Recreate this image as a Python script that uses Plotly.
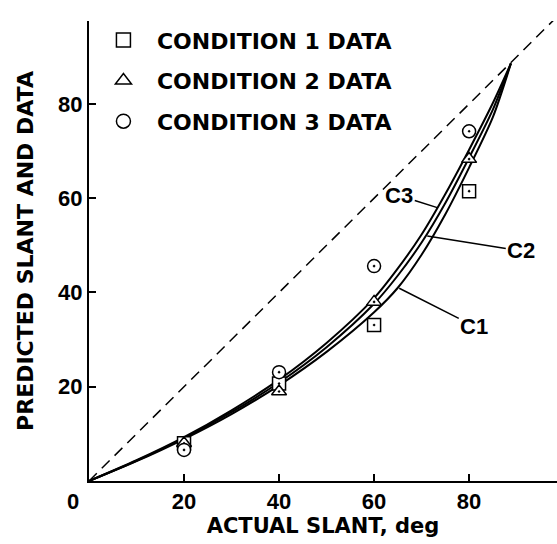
import plotly.graph_objects as go

# ---- data ----
actual = [20, 40, 60, 80]
cond1 = [8.0, 20.7, 33.1, 61.5]
cond2 = [8.0, 19.0, 38.0, 68.3]
cond3 = [6.6, 23.1, 45.6, 74.2]

curve_x = [0, 10, 20, 30, 40, 50, 60, 65, 70, 75, 80, 85, 88.8]
c1_y = [0, 4.2, 8.9, 14.2, 20.3, 27.4, 35.8, 41.0, 48.0, 56.6, 66.5, 77.2, 88.6]
c2_y = [0, 4.3, 9.1, 14.6, 20.9, 28.4, 37.6, 43.6, 50.6, 59.0, 68.6, 78.8, 88.6]
c3_y = [0, 4.4, 9.3, 15.0, 21.5, 29.3, 38.8, 45.1, 52.3, 60.9, 70.3, 80.2, 88.6]

diag = [0, 100]

xticks = [20, 40, 60, 80]
yticks = [20, 40, 60, 80]

NUMFONT = "Liberation Sans"
TXTFONT = "DejaVu Sans"
fig = go.Figure()

# dashed reference line
fig.add_trace(go.Scatter(x=diag, y=diag, mode="lines", showlegend=False,
                         line=dict(color="black", width=1.5, dash="11px,7px")))

for cy in (c1_y, c2_y, c3_y):
    fig.add_trace(go.Scatter(x=curve_x, y=cy, mode="lines", showlegend=False,
                             line=dict(color="black", width=2, shape="spline", smoothing=0.8)))

series = [(cond1, "square", "CONDITION 1 DATA"),
          (cond2, "triangle-up", "CONDITION 2 DATA"),
          (cond3, "circle", "CONDITION 3 DATA")]
for vals, sym, name in series:
    fig.add_trace(go.Scatter(x=actual, y=vals, mode="markers", showlegend=False,
                             marker=dict(symbol=sym + "-dot", size=13, color="white",
                                         line=dict(color="black", width=1.5))))
for i, (vals, sym, name) in enumerate(series):
    fig.add_trace(go.Scatter(x=[None], y=[None], mode="markers", name=name,
                             legendgroup=f"g{i}",
                             marker=dict(symbol=sym + "-open", size=14, color="black",
                                         line=dict(color="black", width=1.5))))

annos = [
    dict(x=73.3, y=58.0, text="C3", ax=-38, ay=-12),
    dict(x=71.2, y=52.0, text="C2", ax=94, ay=15),
    dict(x=65.3, y=40.9, text="C1", ax=75, ay=38),
]
for a in annos:
    fig.add_annotation(x=a["x"], y=a["y"], xref="x", yref="y", text=a["text"],
                       ax=a["ax"], ay=a["ay"], axref="pixel", ayref="pixel",
                       showarrow=True, arrowhead=0, arrowwidth=1.5, arrowcolor="black",
                       font=dict(family=NUMFONT, size=22, color="black", weight="bold"))

fig.add_annotation(x=-0.035, y=-0.044, xref="paper", yref="paper", text="0",
                   showarrow=False, xanchor="center", yanchor="middle",
                   font=dict(family=NUMFONT, size=22, color="black", weight="bold"))

axis_common = dict(showline=True, linewidth=2, linecolor="black", showgrid=False,
                   zeroline=False, ticks="inside", ticklen=7, tickwidth=1.5,
                   tickcolor="black", mirror=False,
                   tickfont=dict(family=NUMFONT, size=22, color="black", weight="bold"))

fig.update_layout(
    width=557, height=544,
    margin=dict(l=89, r=0, t=21, b=63),
    plot_bgcolor="white", paper_bgcolor="white",
    xaxis=dict(range=[0, 98.5], tickvals=xticks, ticktext=[str(v) for v in xticks],
               title=dict(text="ACTUAL SLANT, deg", standoff=1,
                          font=dict(family=TXTFONT, size=21, color="black", weight="bold")),
               **axis_common),
    yaxis=dict(range=[0, 97.6], tickvals=yticks + [97.4], ticktext=[str(v) for v in yticks] + [""],
               title=dict(text="PREDICTED SLANT AND DATA", standoff=18,
                          font=dict(family=TXTFONT, size=22, color="black", weight="bold")),
               **axis_common),
    legend=dict(x=0.002, y=1.004, xanchor="left", yanchor="top", tracegroupgap=9,
                itemwidth=57, bgcolor="rgba(0,0,0,0)",
                font=dict(family=TXTFONT, size=22, color="black", weight="bold")),
)

fig.write_html("out.html", config={"displayModeBar": False},
               post_script="document.body.style.margin='0';")
